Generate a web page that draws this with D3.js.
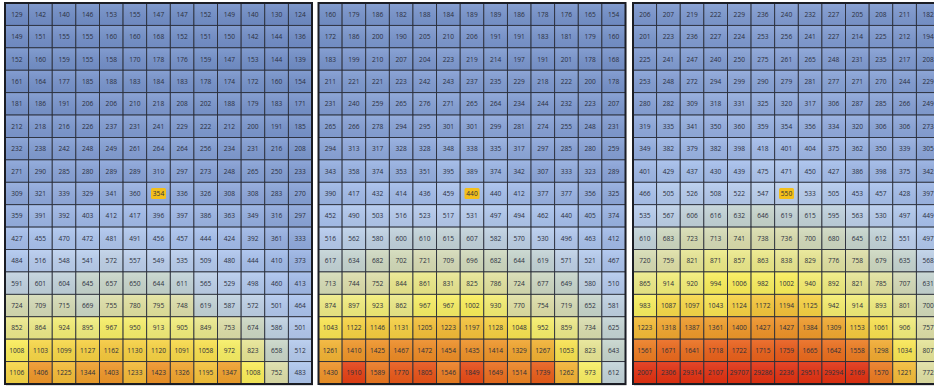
<!DOCTYPE html>
<html><head><meta charset="utf-8">
<script src="https://cdn.jsdelivr.net/npm/d3@7"></script>
<style>html,body{margin:0;padding:0;background:#fff;}svg{display:block;}</style>
</head><body>
<svg id="chart" width="934" height="392"></svg>
<script>
const columns = d3.range(1, 14);
const rows = d3.range(1, 18);

const panel1 = [
[129,142,140,146,153,155,147,147,152,149,140,130,124],
[149,151,155,155,160,160,168,152,151,150,142,144,136],
[152,160,159,155,158,170,178,176,159,147,153,144,139],
[161,164,177,185,188,183,184,183,178,174,172,160,154],
[181,186,191,206,206,210,218,208,202,188,179,183,171],
[212,218,216,226,237,231,241,229,222,212,200,191,185],
[232,238,242,248,249,261,264,264,256,234,231,216,208],
[271,290,285,280,289,289,310,297,273,248,265,250,233],
[309,321,339,329,341,360,354,336,326,308,308,283,270],
[359,391,392,403,412,417,396,397,386,363,349,316,297],
[427,455,470,472,481,491,456,457,444,424,392,361,333],
[484,516,548,541,572,557,549,535,509,480,444,410,373],
[591,601,604,645,657,650,644,611,565,529,498,460,413],
[724,709,715,669,755,780,795,748,619,587,572,501,464],
[852,864,924,895,967,950,913,905,849,753,674,586,501],
[1008,1103,1099,1127,1162,1130,1120,1091,1058,972,823,658,512],
[1106,1406,1225,1344,1403,1233,1423,1326,1195,1347,1008,752,483]
];
const panel2 = [
[160,179,186,182,188,184,189,189,186,178,176,165,154],
[172,186,200,190,205,210,206,191,191,183,181,179,160],
[183,199,210,207,204,223,219,214,197,191,201,178,168],
[211,221,221,223,242,243,237,235,229,218,222,200,178],
[231,240,259,265,276,271,265,264,234,244,232,223,207],
[265,266,278,294,295,301,301,299,281,274,255,248,231],
[294,313,317,328,328,348,338,335,317,297,285,280,259],
[343,358,374,353,351,395,389,374,342,307,333,323,289],
[390,417,432,414,436,459,440,440,412,377,377,356,325],
[452,490,503,516,523,517,531,497,494,462,440,405,374],
[516,562,580,600,610,615,607,582,570,530,496,463,412],
[617,634,682,702,721,709,696,682,644,619,571,521,467],
[713,744,752,844,861,831,825,786,724,677,649,580,510],
[874,897,923,862,967,967,1002,930,770,754,719,652,581],
[1043,1122,1146,1131,1205,1223,1197,1128,1048,952,859,734,625],
[1261,1410,1425,1467,1472,1454,1435,1414,1329,1267,1053,823,643],
[1430,1910,1589,1770,1805,1546,1849,1649,1514,1739,1262,973,612]
];
const panel3 = [
[206,207,219,222,229,236,240,232,227,205,208,211,182],
[201,223,236,227,224,253,256,241,227,214,225,212,194],
[225,241,247,240,250,275,261,265,248,231,235,217,208],
[253,248,272,294,299,290,279,281,277,271,270,244,229],
[280,282,309,318,331,325,320,317,306,287,285,266,249],
[319,335,341,350,360,359,354,356,334,320,306,306,273],
[349,382,379,382,398,418,401,404,375,362,350,339,305],
[401,429,437,430,439,475,471,450,427,386,398,375,342],
[466,505,526,508,522,547,550,533,505,453,457,428,397],
[535,567,606,616,632,646,619,615,595,563,530,497,449],
[610,683,723,713,741,738,736,700,680,645,612,551,497],
[720,759,821,871,857,863,838,829,776,758,679,635,568],
[865,914,920,994,1006,982,1002,940,892,821,785,707,631],
[983,1087,1097,1043,1124,1172,1194,1125,942,914,893,801,700],
[1223,1318,1387,1361,1400,1427,1427,1384,1309,1153,1061,906,757],
[1561,1671,1641,1718,1722,1715,1759,1665,1642,1558,1298,1034,807],
[2007,2306,29314,2107,29707,29286,2236,29511,29294,2169,1570,1221,772]
];
const panels = [panel1, panel2, panel3];
// highlighted cell per panel: [row, column] (1-based)
const highlights = [[9, 7], [9, 7], [9, 7]];

const colorStops = [120, 300, 450, 550, 650, 750, 900, 1000, 1150, 1350, 1600, 1800, 2000];
const colorRange = ["#6f8cc6","#8ca6da","#a9c2ee","#bcd0ee","#c8d6cc","#dedfaa","#f2ee7e","#fbef5a","#f6cc3e","#f0a02c","#ec7620","#e85418","#e23212"];

const svg = d3.select("#chart");
const color = d3.scaleLinear().domain(colorStops).range(colorRange).clamp(true);

const defs = svg.append("defs");
const grad = defs.append("linearGradient").attr("id","sheen").attr("x1",0).attr("y1",0).attr("x2",0).attr("y2",1);
grad.append("stop").attr("offset","0%").attr("stop-color","#fff").attr("stop-opacity",0.10);
grad.append("stop").attr("offset","100%").attr("stop-color","#000").attr("stop-opacity",0.05);

const panelLeft = [5, 318.5, 633];
const panelTop = 3, W = 307, H = 381;

panels.forEach((data, pi) => {
  const g = svg.append("g").attr("transform", `translate(${panelLeft[pi]},${panelTop})`);
  const x = d3.scaleBand().domain(columns).range([0, W]);
  const y = d3.scaleBand().domain(rows).range([0, H]);
  g.append("rect").attr("x", 1).attr("y", 2).attr("width", W).attr("height", H)
    .attr("fill", "#c8c8c8").attr("opacity", 0.6);
  const cells = [];
  data.forEach((row, ri) => row.forEach((v, ci) => cells.push({r: rows[ri], c: columns[ci], v})));
  g.selectAll("rect.cell").data(cells).join("rect").attr("class","cell")
    .attr("x", d => x(d.c)).attr("y", d => y(d.r))
    .attr("width", x.bandwidth()).attr("height", y.bandwidth())
    .attr("fill", d => color(d.v))
    .attr("stroke", "#2a2e3a").attr("stroke-width", 0.9);
  g.selectAll("rect.sheen").data(cells).join("rect").attr("class","sheen")
    .attr("x", d => x(d.c)+0.5).attr("y", d => y(d.r)+0.5)
    .attr("width", x.bandwidth()-1).attr("height", y.bandwidth()-1)
    .attr("fill", "url(#sheen)");
  const [hr, hc] = highlights[pi];
  g.append("rect")
    .attr("x", x(hc) + x.bandwidth()/2 - 7.5).attr("y", y(hr) + y.bandwidth()/2 - 5.5)
    .attr("width", 15).attr("height", 11).attr("rx", 1.5)
    .attr("fill", "#f3bf1a");
  g.selectAll("text").data(cells).join("text")
    .attr("x", d => x(d.c) + x.bandwidth()/2)
    .attr("y", d => y(d.r) + y.bandwidth()/2)
    .attr("text-anchor", "middle").attr("dominant-baseline", "central")
    .attr("font-family", "'Open Sans', 'Noto Sans', sans-serif")
    .attr("font-size", "6.6px").attr("fill", "#2b2f3c")
    .text(d => d.v);
  g.append("rect").attr("x", 0).attr("y", 0).attr("width", W).attr("height", H)
    .attr("fill", "none").attr("stroke", "#1b1d24").attr("stroke-width", 2);
});
</script>
</body></html>
